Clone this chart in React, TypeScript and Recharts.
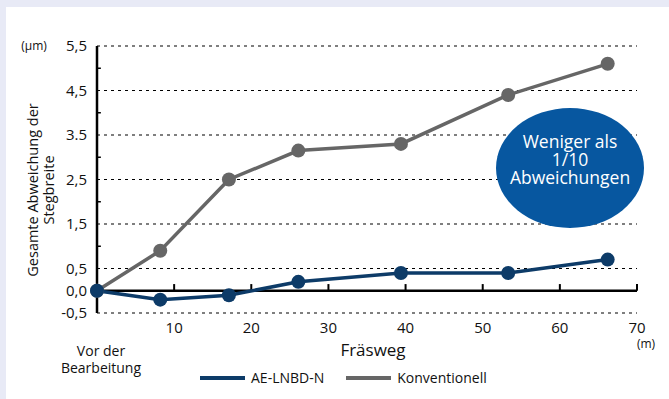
import {
  CartesianGrid,
  Legend,
  Line,
  LineChart,
  ReferenceLine,
  XAxis,
  YAxis,
} from 'recharts'

const distances = [0, 8.2, 17.1, 26.1, 39.4, 53.3, 66.2]
const aeValues = [0, -0.2, -0.1, 0.2, 0.4, 0.4, 0.7]
const konvValues = [0, 0.9, 2.5, 3.15, 3.3, 4.4, 5.1]
const xTicks = [10, 20, 30, 40, 50, 60, 70]
const yTicks = [-0.5, 0, 0.5, 1.5, 2.5, 3.5, 4.5, 5.5]
const yMinorTicks = [1, 2, 3, 4, 5]
const yTickLabels: Record<string, string> = {
  '-0.5': '-0,5',
  '0': '0,0',
  '0.5': '0,5',
  '1.5': '1,5',
  '2.5': '2,5',
  '3.5': '3.5',
  '4.5': '4,5',
  '5.5': '5,5',
}

const BLUE = '#0d3b68'
const GRAY = '#666666'
const FONT = '"Open Sans", sans-serif'

const data = distances.map((x, i) => ({ x, ae: aeValues[i], konv: konvValues[i] }))

const series = [
  { key: 'ae', name: 'AE-LNBD-N', color: BLUE },
  { key: 'konv', name: 'Konventionell', color: GRAY },
]

function LegendContent() {
  return (
    <div style={{ display: 'flex', fontFamily: FONT, fontSize: 14, lineHeight: '20px', color: '#111' }}>
      {series.map((s) => (
        <div key={s.key} style={{ display: 'flex', alignItems: 'center', marginRight: 22 }}>
          <span style={{ width: 45, height: 4, background: s.color, marginRight: 6, display: 'inline-block' }} />
          <span>{s.name}</span>
        </div>
      ))}
    </div>
  )
}

export default function App() {
  return (
    <div style={{ position: 'absolute', left: 0, top: 0, width: 669, height: 399, background: '#e8eaf6', overflow: 'hidden' }}>
      <div style={{ position: 'absolute', left: 6, top: 7, right: 0, bottom: 0, background: '#fff' }} />
      <div style={{ position: 'absolute', left: 0, top: 0 }}>
        <LineChart width={669} height={399} data={data} margin={{ top: 46, right: 32, bottom: 36, left: 0 }}>
          <CartesianGrid vertical={false} stroke="#000" strokeDasharray="3 4" strokeWidth={1.2} />
          <XAxis
            type="number"
            dataKey="x"
            domain={[0, 70]}
            ticks={xTicks}
            axisLine={false}
            tickLine={false}
            tickMargin={3}
            height={30}
            tick={{ fill: '#111', fontSize: 15, fontFamily: FONT }}
          />
          <YAxis
            type="number"
            domain={[-0.5, 5.5]}
            ticks={yTicks}
            width={97}
            axisLine={{ stroke: '#000', strokeWidth: 2.5 }}
            tickLine={false}
            tickMargin={4}
            interval={0}
            tickFormatter={(v: number) => yTickLabels[String(v)] ?? String(v)}
            tick={{ fill: '#111', fontSize: 15, fontFamily: FONT }}
          />
          <ReferenceLine y={0} stroke="#000" strokeWidth={2.5} />
          {xTicks.map((t) => (
            <ReferenceLine key={'xt' + t} segment={[{ x: t, y: 0 }, { x: t, y: 0.15 }]} stroke="#000" strokeWidth={2} />
          ))}
          {yMinorTicks.map((t) => (
            <ReferenceLine key={'yt' + t} segment={[{ x: 0, y: t }, { x: 0.5, y: t }]} stroke="#000" strokeWidth={1.5} />
          ))}
          <Legend
            content={<LegendContent />}
            wrapperStyle={{ left: 200, top: 368, width: 400, height: 20 }}
          />
          <Line
            type="linear"
            dataKey="konv"
            name="Konventionell"
            stroke={GRAY}
            strokeWidth={3.5}
            dot={{ r: 7, fill: GRAY, stroke: 'none' }}
            isAnimationActive={false}
          />
          <Line
            type="linear"
            dataKey="ae"
            name="AE-LNBD-N"
            stroke={BLUE}
            strokeWidth={3.5}
            dot={{ r: 7, fill: BLUE, stroke: 'none' }}
            isAnimationActive={false}
          />
        </LineChart>
      </div>
      <svg
        width={669}
        height={399}
        style={{ position: 'absolute', left: 0, top: 0, pointerEvents: 'none' }}
        fontFamily={FONT}
      >
        <text x={34} y={50} fontSize={12} textAnchor="middle" fill="#111">(µm)</text>
        <g transform="translate(32 190) rotate(-90)">
          <text x={0} y={0} fontSize={14.5} textAnchor="middle" dominantBaseline="central" fill="#111">
            Gesamte Abweichung der
          </text>
        </g>
        <g transform="translate(48 190) rotate(-90)">
          <text x={0} y={0} fontSize={14.5} textAnchor="middle" dominantBaseline="central" fill="#111">
            Stegbreite
          </text>
        </g>
        <text x={373} y={356} fontSize={17} textAnchor="middle" fill="#111">Fräsweg</text>
        <text x={646} y={348} fontSize={12} textAnchor="middle" fill="#111">(m)</text>
        <text x={101} y={356} fontSize={14} textAnchor="middle" fill="#111">Vor der</text>
        <text x={101} y={373} fontSize={14} textAnchor="middle" fill="#111">Bearbeitung</text>
        <ellipse cx={570} cy={168} rx={74} ry={60} fill="#0757a0" />
        <text x={570} y={148} fontSize={17.5} textAnchor="middle" fill="#fff">Weniger als</text>
        <text x={570} y={166} fontSize={17.5} textAnchor="middle" fill="#fff">1/10</text>
        <text x={570} y={184} fontSize={17.5} textAnchor="middle" fill="#fff">Abweichungen</text>
      </svg>
    </div>
  )
}
